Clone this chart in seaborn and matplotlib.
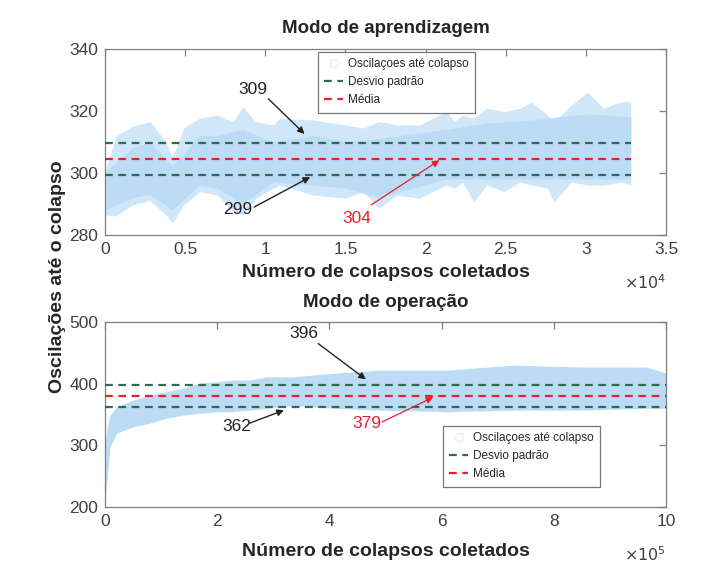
import numpy as np
import pandas as pd
import matplotlib
matplotlib.use("Agg")
import matplotlib.pyplot as plt
from matplotlib.lines import Line2D
from matplotlib.ticker import FuncFormatter
import seaborn as sns

sns.set_style("white")
plt.rcParams['font.family'] = ['Liberation Sans', 'DejaVu Sans']

# ---------------- data ----------------
# Learning mode: outer envelope of the scatter cloud
learn_x = [0, 700, 1700, 2800, 3800, 4200, 4900, 5900, 7000, 8000, 8600, 9400,
           10500, 10900, 13000, 15000, 16100, 17100, 18200, 19600, 21300, 21800,
           22300, 23000, 23800, 24900, 25900, 26600, 27600, 28000, 29100, 30100,
           31100, 32200, 32800]
learn_upper = [300.3, 312, 315, 316.5, 310, 304.7, 314.4, 317.6, 318.6, 316.5, 321.3, 316.5,
               315.4, 317.6, 317, 315.4, 314.4, 316.5, 315.4, 315.4, 319.7, 316.5,
               318.6, 317.6, 320.8, 319.7, 320.8, 322.9, 318.6, 316.5, 321.8, 326,
               320.8, 322.9, 322.9]
learn_lower = [286.4, 286, 289.6, 291, 286.4, 283.8, 289.6, 293.9, 292.8, 287.4, 286.4, 291.8,
               295, 296, 292.8, 291.8, 293.9, 288.6, 292.8, 291.8, 296, 295,
               297, 290.6, 296, 293.9, 297, 296, 295, 290.6, 297, 296,
               296, 297, 296]
# Learning mode: dense core of the cloud
core_x = [0, 1700, 2800, 4200, 5900, 7000, 8600, 10500, 13000, 15000, 17100,
          21300, 23800, 26600, 30100, 32800]
core_upper = [300, 308, 310, 302, 312, 312, 314, 310, 312, 310, 311,
              314, 316, 317, 319, 318]
core_lower = [288, 292, 293, 288, 296, 295, 290, 297, 296, 295, 292,
              298, 298, 298, 298, 298]
learn_mean = 304.4
learn_std_hi = 309.7
learn_std_lo = 299.1

# Operation mode: envelope of the scatter cloud
op_x = [0, 3000, 9000, 21000, 50000, 80000, 110000, 139000, 169000, 199000, 228000,
        258000, 288000, 335000, 407000, 490000, 609000, 727000, 847000, 966000, 1000000]
op_upper = [297.7, 324.8, 349, 362.6, 373.4, 381.5, 386.9, 392.8, 401, 403, 405.8,
            405.8, 411, 411, 417, 422, 422, 430, 427, 427, 417]
op_lower = [216.7, 238, 297.7, 320, 330, 336, 344, 349, 352, 354.5, 354.5,
            357, 360, 365, 360, 357, 354.5, 357, 357, 360, 360]
op_mean = 380
op_std_hi = 397.5
op_std_lo = 362.5

learn_end = 32800
op_end = 1000000

# ---------------- style ----------------
outer_c = '#d0e6f9'
core_c = '#bcdcf6'
green = '#2f6b52'
red = '#e8202c'
spine_c = '#7f7f7f'
tick_c = '#404040'

fig = plt.figure(figsize=(7.2, 5.75), dpi=100)
ax1 = fig.add_axes([105/720, 1-234.7/575, 561/720, 186/575])
ax2 = fig.add_axes([105/720, 1-507/575, 561/720, 185/575])


def hlines(ax, mean, slo, shi, xend):
    df = pd.DataFrame({'x': [0, xend, 0, xend, 0, xend],
                       'y': [shi, shi, mean, mean, slo, slo],
                       'g': ['a', 'a', 'm', 'm', 'b', 'b']})
    sns.lineplot(data=df, x='x', y='y', hue='g', palette={'a': green, 'm': red, 'b': green},
                 ax=ax, legend=False, lw=1.6, dashes=False, zorder=3)
    for ln in ax.lines:
        ln.set_dashes((3.5, 2.5))


ax1.fill_between(learn_x, learn_lower, learn_upper, color=outer_c, lw=0, zorder=1)
ax1.fill_between(core_x, core_lower, core_upper, color=core_c, lw=0, zorder=2)
hlines(ax1, learn_mean, learn_std_lo, learn_std_hi, learn_end)

ax2.fill_between(op_x, op_lower, op_upper, color=core_c, lw=0, zorder=1)
hlines(ax2, op_mean, op_std_lo, op_std_hi, op_end)

ax1.set_xlim(0, 35000)
ax1.set_ylim(280, 340)
ax1.set_xticks(np.arange(0, 35001, 5000))
ax1.set_yticks([280, 300, 320, 340])
ax1.xaxis.set_major_formatter(FuncFormatter(lambda v, p: f"{v/1e4:g}"))

ax2.set_xlim(0, 1000000)
ax2.set_ylim(200, 500)
ax2.set_xticks(np.arange(0, 1000001, 200000))
ax2.set_yticks([200, 300, 400, 500])
ax2.xaxis.set_major_formatter(FuncFormatter(lambda v, p: f"{v/1e5:g}"))

for ax, title, exp, lp in [(ax1, 'Modo de aprendizagem', 4, 5), (ax2, 'Modo de operação', 5, 10)]:
    for s in ax.spines.values():
        s.set_visible(True)
        s.set_color(spine_c)
        s.set_linewidth(0.9)
    ax.tick_params(direction='in', top=True, right=True, length=5, width=0.9,
                   colors=spine_c, labelcolor=tick_c, labelsize=12.5, pad=5)
    ax.set_title(title, fontsize=13.5, fontweight='bold', pad=11)
    ax.set_xlabel('Número de colapsos coletados', fontsize=14, fontweight='bold', labelpad=lp)
    ax.set_ylabel('')
    ax.text(1.0, -0.26, r'$\times10^{%d}$' % exp, transform=ax.transAxes, ha='right', va='center',
            fontsize=11.5, color=tick_c)

fig.text(57/720, 1-277/575, 'Oscilações até o colapso', rotation=90, ha='center', va='center',
         fontsize=14, fontweight='bold')

# legends
handles = [Line2D([], [], marker='o', ls='none', mfc='none', mec='#e3f0fb', ms=6),
           Line2D([], [], color=green, ls=(0, (3.5, 2.5)), lw=1.6),
           Line2D([], [], color=red, ls=(0, (3.5, 2.5)), lw=1.6)]
labels = ['Oscilaçoes até colapso', 'Desvio padrão', 'Média']
for ax, bbox in [(ax1, (318, 52)), (ax2, (443, 426))]:
    leg = ax.legend(handles, labels, loc='upper left',
                    bbox_to_anchor=(bbox[0]/720, 1-bbox[1]/575), bbox_transform=fig.transFigure,
                    fontsize=8.5, frameon=True, fancybox=False, handlelength=1.6,
                    handletextpad=0.4, borderpad=0.55, labelspacing=0.5, borderaxespad=0)
    leg.get_frame().set_edgecolor('#555555')
    leg.get_frame().set_linewidth(0.9)
    leg.set_zorder(10)

# annotations
arrow_k = dict(arrowstyle='-|>', color='#222222', lw=1.0, mutation_scale=10, shrinkA=0, shrinkB=0)
arrow_r = dict(arrowstyle='-|>', color=red, lw=0.9, mutation_scale=10, shrinkA=0, shrinkB=0)

ax1.annotate('', xy=(12450, 312.5), xytext=(10200, 323.8), arrowprops=arrow_k)
ax1.text(9200, 326.7, '309', fontsize=12.5, ha='center', va='center', color='#222222')
ax1.annotate('', xy=(12800, 298.6), xytext=(9300, 288.9), arrowprops=arrow_k)
ax1.text(8300, 288.0, '299', fontsize=12.5, ha='center', va='center', color='#222222')
ax1.annotate('', xy=(20860, 304.0), xytext=(16600, 289.6), arrowprops=arrow_r)
ax1.text(15700, 285.2, '304', fontsize=12.5, ha='center', va='center', color=red)

ax2.annotate('', xy=(465000, 407), xytext=(380000, 465), arrowprops=arrow_k)
ax2.text(355000, 481, '396', fontsize=12.5, ha='center', va='center', color='#222222')
ax2.annotate('', xy=(319000, 357), xytext=(258000, 336), arrowprops=arrow_k)
ax2.text(235000, 331, '362', fontsize=12.5, ha='center', va='center', color='#222222')
ax2.annotate('', xy=(585000, 378), xytext=(494000, 338), arrowprops=arrow_r)
ax2.text(467000, 336, '379', fontsize=12.5, ha='center', va='center', color=red)

fig.savefig('out.png', dpi=100, facecolor='white')
